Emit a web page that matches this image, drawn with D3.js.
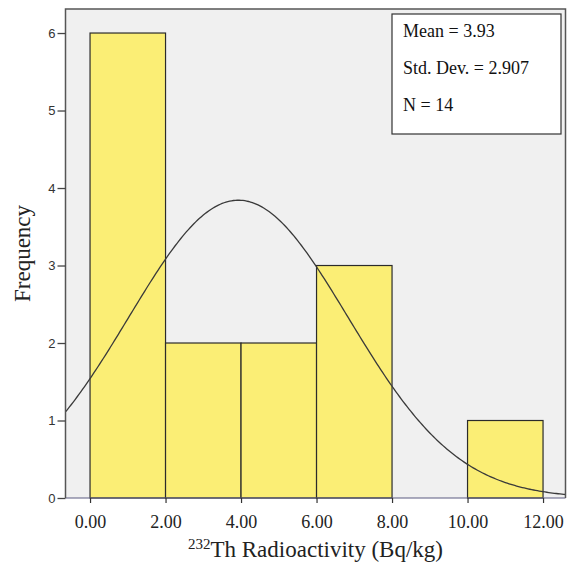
<!DOCTYPE html>
<html>
<head>
<meta charset="utf-8">
<script src="https://d3js.org/d3.v7.min.js"></script>
<style>
body { margin: 0; background: #fff; }
</style>
</head>
<body>
<script>
// histogram bins (Bq/kg) and counts
var binStarts = [0, 2, 4, 6, 8, 10];
var binWidth = 2;
var counts = [6, 2, 2, 3, 0, 1];
var xTicks = [0, 2, 4, 6, 8, 10, 12];
var yTicks = [0, 1, 2, 3, 4, 5, 6];
var statLines = ["Mean = 3.93", "Std. Dev. = 2.907", "N = 14"];
var mean = 3.93, sd = 2.907, n = 14;

var width = 572, height = 566;
var pLeft = 65.5, pRight = 565.5, pTop = 9, pBottom = 498;

var svg = d3.select("body").append("svg")
	.attr("width", width)
	.attr("height", height);

var x = d3.scaleLinear().domain([-0.65, 12.595]).range([pLeft, pRight]);
var y = d3.scaleLinear().domain([0, 6.31]).range([pBottom, pTop]);

// plot background
svg.append("rect")
	.attr("x", pLeft).attr("y", pTop)
	.attr("width", pRight - pLeft).attr("height", pBottom - pTop)
	.attr("fill", "#f0f0f0");

svg.append("defs").append("clipPath").attr("id", "clip")
	.append("rect")
	.attr("x", pLeft).attr("y", pTop)
	.attr("width", pRight - pLeft).attr("height", pBottom - pTop);

// bars
svg.append("g")
	.selectAll("rect")
	.data(binStarts.map(function(d, i) { return {x0: d, c: counts[i]}; }).filter(function(d) { return d.c > 0; }))
	.enter()
	.append("rect")
		.attr("x", function(d) { return x(d.x0); })
		.attr("y", function(d) { return y(d.c); })
		.attr("width", function(d) { return x(d.x0 + binWidth) - x(d.x0); })
		.attr("height", function(d) { return y(0) - y(d.c); })
		.attr("fill", "#fbee75")
		.attr("stroke", "#2b2b2b")
		.attr("stroke-width", 1.2);

// normal curve scaled to counts
var curve = d3.range(-0.65, 12.61, 0.05).map(function(v) {
	var z = (v - mean) / sd;
	return [v, n * binWidth * Math.exp(-0.5 * z * z) / (sd * Math.sqrt(2 * Math.PI))];
});
svg.append("path")
	.datum(curve)
	.attr("clip-path", "url(#clip)")
	.attr("fill", "none")
	.attr("stroke", "#3a3a3a")
	.attr("stroke-width", 1.3)
	.attr("d", d3.line().x(function(d) { return x(d[0]); }).y(function(d) { return y(d[1]); }));

// bottom axis line
svg.append("line")
	.attr("x1", pLeft).attr("x2", pRight)
	.attr("y1", pBottom).attr("y2", pBottom)
	.attr("stroke", "#5a5a80").attr("stroke-width", 1.2);

// frame
svg.append("path")
	.attr("d", "M" + pLeft + "," + pBottom + "V" + pTop + "H" + pRight + "V" + pBottom)
	.attr("fill", "none")
	.attr("stroke", "#555")
	.attr("stroke-width", 1.5);

// y axis
var yAxis = svg.append("g")
	.attr("transform", "translate(" + pLeft + ",0)")
	.call(d3.axisLeft(y).tickValues(yTicks).tickSize(8).tickPadding(2).tickFormat(d3.format("d")));
yAxis.select(".domain").remove();
yAxis.selectAll("line").attr("stroke", "#444").attr("stroke-width", 1.3);
yAxis.selectAll("text")
	.attr("fill", "#333")
	.style("font-family", "'Liberation Sans', Arial, sans-serif")
	.style("font-size", "13px");

// x axis
var xAxis = svg.append("g")
	.attr("transform", "translate(0," + pBottom + ")")
	.call(d3.axisBottom(x).tickValues(xTicks).tickSize(5).tickPadding(12).tickFormat(d3.format(".2f")));
xAxis.select(".domain").remove();
xAxis.selectAll("line").attr("stroke", "#333").attr("stroke-width", 1.2);
xAxis.selectAll("text")
	.attr("fill", "#222")
	.style("font-family", "'Liberation Serif', 'Times New Roman', serif")
	.style("font-size", "18px");

// axis titles
var xt = svg.append("text")
	.attr("x", (pLeft + pRight) / 2)
	.attr("y", 557)
	.attr("text-anchor", "middle")
	.attr("fill", "#222")
	.style("font-family", "'Liberation Serif', 'Times New Roman', serif")
	.style("font-size", "23px");
xt.append("tspan").attr("font-size", "15px").attr("dy", -8).text("232");
xt.append("tspan").attr("dy", 8).text("Th Radioactivity (Bq/kg)");

svg.append("text")
	.attr("transform", "translate(30," + ((pTop + pBottom) / 2) + ") rotate(-90)")
	.attr("text-anchor", "middle")
	.attr("fill", "#222")
	.style("font-family", "'Liberation Serif', 'Times New Roman', serif")
	.style("font-size", "23px")
	.text("Frequency");

// stats box
svg.append("rect")
	.attr("x", 392).attr("y", 14)
	.attr("width", 169).attr("height", 120)
	.attr("fill", "#fff")
	.attr("stroke", "#333")
	.attr("stroke-width", 1.2);

svg.append("g")
	.selectAll("text")
	.data(statLines)
	.enter()
	.append("text")
		.attr("x", 403)
		.attr("y", function(d, i) { return 37 + i * 37; })
		.attr("fill", "#111")
		.style("font-family", "'Liberation Serif', 'Times New Roman', serif")
		.style("font-size", "18px")
		.text(function(d) { return d; });
</script>
</body>
</html>
